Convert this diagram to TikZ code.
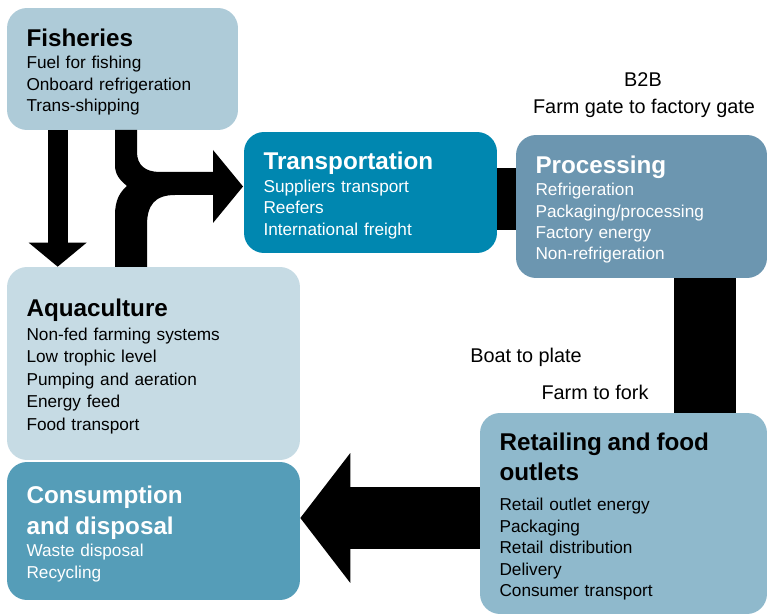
\documentclass[tikz,border=0pt]{standalone}
\usepackage{fontspec}
\setmainfont{Liberation Sans}
\usetikzlibrary{arrows.meta}

\definecolor{fishblue}{HTML}{AECBD8}
\definecolor{transblue}{HTML}{0087B0}
\definecolor{procblue}{HTML}{6C96B0}
\definecolor{aquablue}{HTML}{C6DBE4}
\definecolor{consblue}{HTML}{559DB8}
\definecolor{retailblue}{HTML}{8FB9CC}

\newcommand{\bodyfont}{\fontsize{9.8}{12.2}\selectfont}
\newcommand{\heading}[1]{{\fontsize{13.8}{16}\selectfont\bfseries\rule{0pt}{13.5pt}#1}}

\tikzset{
  stage/.style={rectangle, rounded corners=0.4cm, inner xsep=0.39cm, inner ysep=0pt, align=left, font=\bodyfont},
  bar/.style={draw=black, line width=1.24cm},
  note/.style={font=\fontsize{11.3}{13}\selectfont}
}

\begin{document}
\begin{tikzpicture}[x=0.02cm, y=-0.02cm]
  \useasboundingbox (0,0) rectangle (767,614);

  % stages of the chain
  \node (fish) [stage, fill=fishblue, text width=3.84cm, minimum height=2.44cm] at (122.5,69)
    {\heading{Fisheries}\\[0.5pt] Fuel for fishing\\ Onboard refrigeration\\ Trans-shipping};
  \node (trans) [stage, fill=transblue, text=white, text width=4.28cm, minimum height=2.42cm] at (370.5,192.5)
    {\heading{Transportation}\\[0.5pt] Suppliers transport\\ Reefers\\ International freight};
  \node (proc) [stage, fill=procblue, text=white, text width=4.24cm, minimum height=2.86cm] at (641.5,206.5)
    {\heading{Processing}\\[0.5pt] Refrigeration\\ Packaging/processing\\ Factory energy\\ Non-refrigeration};
  \node (aqua) [stage, fill=aquablue, text width=5.08cm, minimum height=3.86cm,
      font=\fontsize{9.8}{12.8}\selectfont] at (153.5,363.5)
    {\heading{Aquaculture}\\[0.5pt] Non-fed farming systems\\ Low trophic level\\ Pumping and aeration\\ Energy feed\\ Food transport};
  \node (cons) [stage, fill=consblue, text=white, text width=5.08cm, minimum height=2.76cm] at (153.5,531)
    {\heading{Consumption}\\[3.7pt]{\fontsize{13.8}{16}\selectfont\bfseries and disposal}\\[0.5pt] Waste disposal\\ Recycling};
  \node (retail) [stage, fill=retailblue, text width=4.96cm, minimum height=4.02cm] at (623.5,513.5)
    {\heading{Retailing and food}\\[3.3pt]{\fontsize{13.8}{16}\selectfont\bfseries outlets}\\[5pt] Retail outlet energy\\ Packaging\\ Retail distribution\\ Delivery\\ Consumer transport};

  % side notes
  \node (b2b) [note] at (643,80) {B2B};
  \node (gate) [note] at (644,108) {Farm gate to factory gate};
  \node (boat) [note] at (526,357) {Boat to plate};
  \node (fork) [note] at (595,392) {Farm to fork};

  % fisheries down to aquaculture
  \coordinate (fa) at ([xshift=1.02cm]fish.south west);
  \draw[line width=0.4cm, -{Triangle[width=1.16cm, length=0.48cm, line width=0pt]}] (fa) -- (fa |- aqua.north);

  % both branches join into transportation
  \fill (137,130) -- (137,152) .. controls (137,165) and (145,172) .. (160,172) -- (213,172)
    -- (213,150) -- (243,186.5) -- (213,223) -- (213,195) -- (175,195)
    .. controls (155,195) and (147,205) .. (147,225) -- (147,267) -- (115,267) -- (115,215)
    .. controls (115,200) and (120,192) .. (127,186)
    .. controls (120,180) and (115,175) .. (115,165) -- (115,130) -- cycle;

  % links along the chain
  \coordinate (tp) at ([yshift=-0.13cm]trans.east);
  \draw[bar] (tp) -- (tp -| proc.west);
  \coordinate (pr) at ([xshift=1.27cm]proc.south);
  \draw[bar] (pr) -- (pr |- retail.north);

  \coordinate (rc) at ([yshift=-0.09cm]retail.west);
  \draw[line width=1.24cm, -{Triangle[width=2.6cm, length=1cm, line width=0pt]}] (rc) -- (rc -| cons.east);
\end{tikzpicture}
\end{document}
